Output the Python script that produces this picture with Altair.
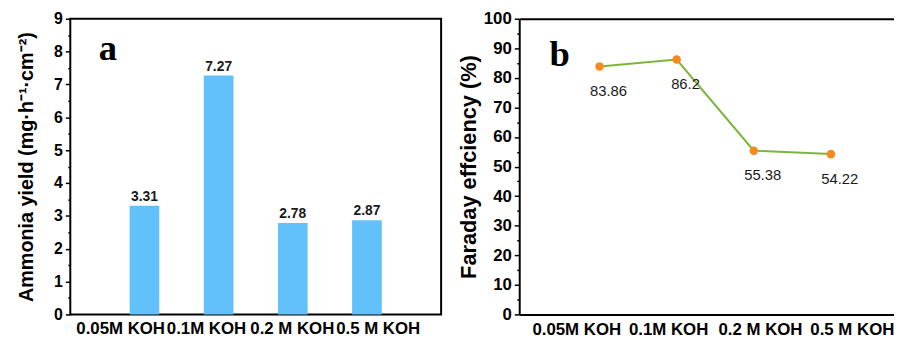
import altair as alt
import pandas as pd

categories = ["0.05M KOH", "0.1M KOH", "0.2 M KOH", "0.5 M KOH"]
bar_cats = ["0.05M KOH", "0.1M KOH", "0.2 M KOH", "0.5 M KOH"]
ammonia_yield = [3.31, 7.27, 2.78, 2.87]
faraday_eff = [83.86, 86.2, 55.38, 54.22]
yield_ticks = [0, 1, 2, 3, 4, 5, 6, 7, 8, 9]
yield_minor = [0.5, 1.5, 2.5, 3.5, 4.5, 5.5, 6.5, 7.5, 8.5]
fe_ticks = [0, 10, 20, 30, 40, 50, 60, 70, 80, 90, 100]
fe_minor = [5, 15, 25, 35, 45, 55, 65, 75, 85, 95]

FONT = "Liberation Sans"
SERIF = "Liberation Serif"

df_a = pd.DataFrame({"cat": bar_cats, "val": ammonia_yield})
df_b = pd.DataFrame({"cat": categories, "val": faraday_eff})
df_la = pd.DataFrame({"label": ["a"]})
df_lb = pd.DataFrame({"label": ["b"]})

W_A, H = 375, 299
W_B = 379

# ---------------- panel a ----------------
ya = alt.Scale(domain=[0, 9], nice=False, zero=True)
xa = alt.Scale(type="band", paddingInner=0.6, paddingOuter=0.8)
bars = alt.Chart(df_a).mark_bar(color="#62C0FA").encode(
    x=alt.X("cat:N", sort=bar_cats, scale=xa, axis=None),
    y=alt.Y("val:Q", scale=ya,
            axis=alt.Axis(title="Ammonia yield (mg·h⁻¹·cm⁻²)", values=yield_ticks,
                          orient="left", grid=False, domain=False,
                          tickSize=5, tickWidth=1.5, tickColor="black",
                          labelFontSize=16, labelFont=FONT, labelFontWeight="bold",
                          labelColor="black", labelPadding=3,
                          titleFontSize=20, titleFont=FONT, titleFontWeight="bold",
                          titleColor="black", titlePadding=17)),
)
bar_text = alt.Chart(df_a).mark_text(baseline="bottom", dy=-2, fontSize=14,
                                     font=FONT, fontWeight="bold", color="#1a1a1a").encode(
    x=alt.X("cat:N", sort=bar_cats, scale=xa, axis=None),
    y=alt.Y("val:Q", scale=ya, axis=None),
    text=alt.Text("val:Q", format="~g"),
)
minor_a = alt.Chart(df_a).mark_point(opacity=0).encode(
    y=alt.Y("val:Q", scale=ya,
            axis=alt.Axis(title=None, values=yield_minor, orient="left", grid=False,
                          domain=False, labels=False, tickSize=2.5, tickWidth=1.5,
                          tickColor="black")),
)
xlab_a = alt.Chart(df_a).mark_point(opacity=0).encode(
    x=alt.X("cat:N", sort=bar_cats,
            scale=alt.Scale(type="point", padding=0.66, align=0.44),
            axis=alt.Axis(title=None, orient="bottom", ticks=False, domain=False,
                          labelAngle=0, labelFontSize=17, labelFont=FONT,
                          labelFontWeight="bold", labelColor="black",
                          labelPadding=6)),
)
letter_a = alt.Chart(df_la).mark_text(font=SERIF, fontWeight="bold", fontSize=37,
                                      color="black", baseline="alphabetic").encode(
    x=alt.value(38), y=alt.value(42), text="label:N")

panel_a = alt.layer(bars, bar_text, minor_a, xlab_a, letter_a).resolve_scale(
    x="independent").resolve_axis(x="independent", y="independent").properties(
    width=W_A, height=H, view=alt.ViewBackground(stroke="black", strokeWidth=2))

# ---------------- panel b ----------------
yb = alt.Scale(domain=[0, 100], nice=False, zero=True)
xb = alt.Scale(type="point", padding=0.93, align=0.56)
line = alt.Chart(df_b).mark_line(color="#7CB53A", strokeWidth=2).encode(
    x=alt.X("cat:N", sort=categories, scale=xb,
            axis=alt.Axis(title=None, orient="top", labels=False,
                          ticks=False, domain=True, domainColor="black",
                          domainWidth=2)),
    y=alt.Y("val:Q", scale=yb,
            axis=alt.Axis(title="Faraday effciency (%)", values=fe_ticks,
                          orient="left", grid=False, domain=True,
                          domainColor="black", domainWidth=2,
                          tickSize=5, tickWidth=1.5, tickColor="black",
                          labelFontSize=17, labelFont=FONT, labelFontWeight="bold",
                          labelColor="black", labelPadding=3,
                          titleFontSize=22, titleFont=FONT, titleFontWeight="bold",
                          titleColor="black", titlePadding=3)),
)
pts = alt.Chart(df_b).mark_circle(color="#F58A1F", size=75, opacity=1).encode(
    x=alt.X("cat:N", sort=categories, scale=xb, axis=None),
    y=alt.Y("val:Q", scale=yb, axis=None),
)
pt_text = alt.Chart(df_b).mark_text(dx=9, dy=25, fontSize=15, font=FONT,
                                    color="#1a1a1a").encode(
    x=alt.X("cat:N", sort=categories, scale=xb, axis=None),
    y=alt.Y("val:Q", scale=yb, axis=None),
    text=alt.Text("val:Q", format="~g"),
)
minor_b = alt.Chart(df_b).mark_point(opacity=0).encode(
    y=alt.Y("val:Q", scale=yb,
            axis=alt.Axis(title=None, values=fe_minor, orient="left", grid=False,
                          domain=False, labels=False, tickSize=2.5, tickWidth=1.5,
                          tickColor="black")),
)
xlab_b = alt.Chart(df_b).mark_point(opacity=0).encode(
    x=alt.X("cat:N", sort=categories,
            scale=alt.Scale(type="point", padding=0.54, align=0.575),
            axis=alt.Axis(title=None, orient="bottom", ticks=False, domain=True,
                          domainColor="black", domainWidth=2,
                          labelAngle=0, labelFontSize=17, labelFont=FONT,
                          labelFontWeight="bold", labelColor="black",
                          labelPadding=7)),
)
letter_b = alt.Chart(df_lb).mark_text(font=SERIF, fontWeight="bold", fontSize=37,
                                      color="black", baseline="alphabetic").encode(
    x=alt.value(41), y=alt.value(48), text="label:N")

panel_b = alt.layer(line, pts, pt_text, minor_b, xlab_b, letter_b).resolve_scale(
    x="independent").resolve_axis(x="independent", y="independent").properties(
    width=W_B, height=H, view=alt.ViewBackground(stroke=None))

chart = alt.hconcat(panel_a, panel_b, spacing=15).properties(
    padding={"left": 8, "top": 0, "right": 0, "bottom": 0},
    background="white")

chart.save("out.html", embed_options={"renderer": "svg", "actions": False})
